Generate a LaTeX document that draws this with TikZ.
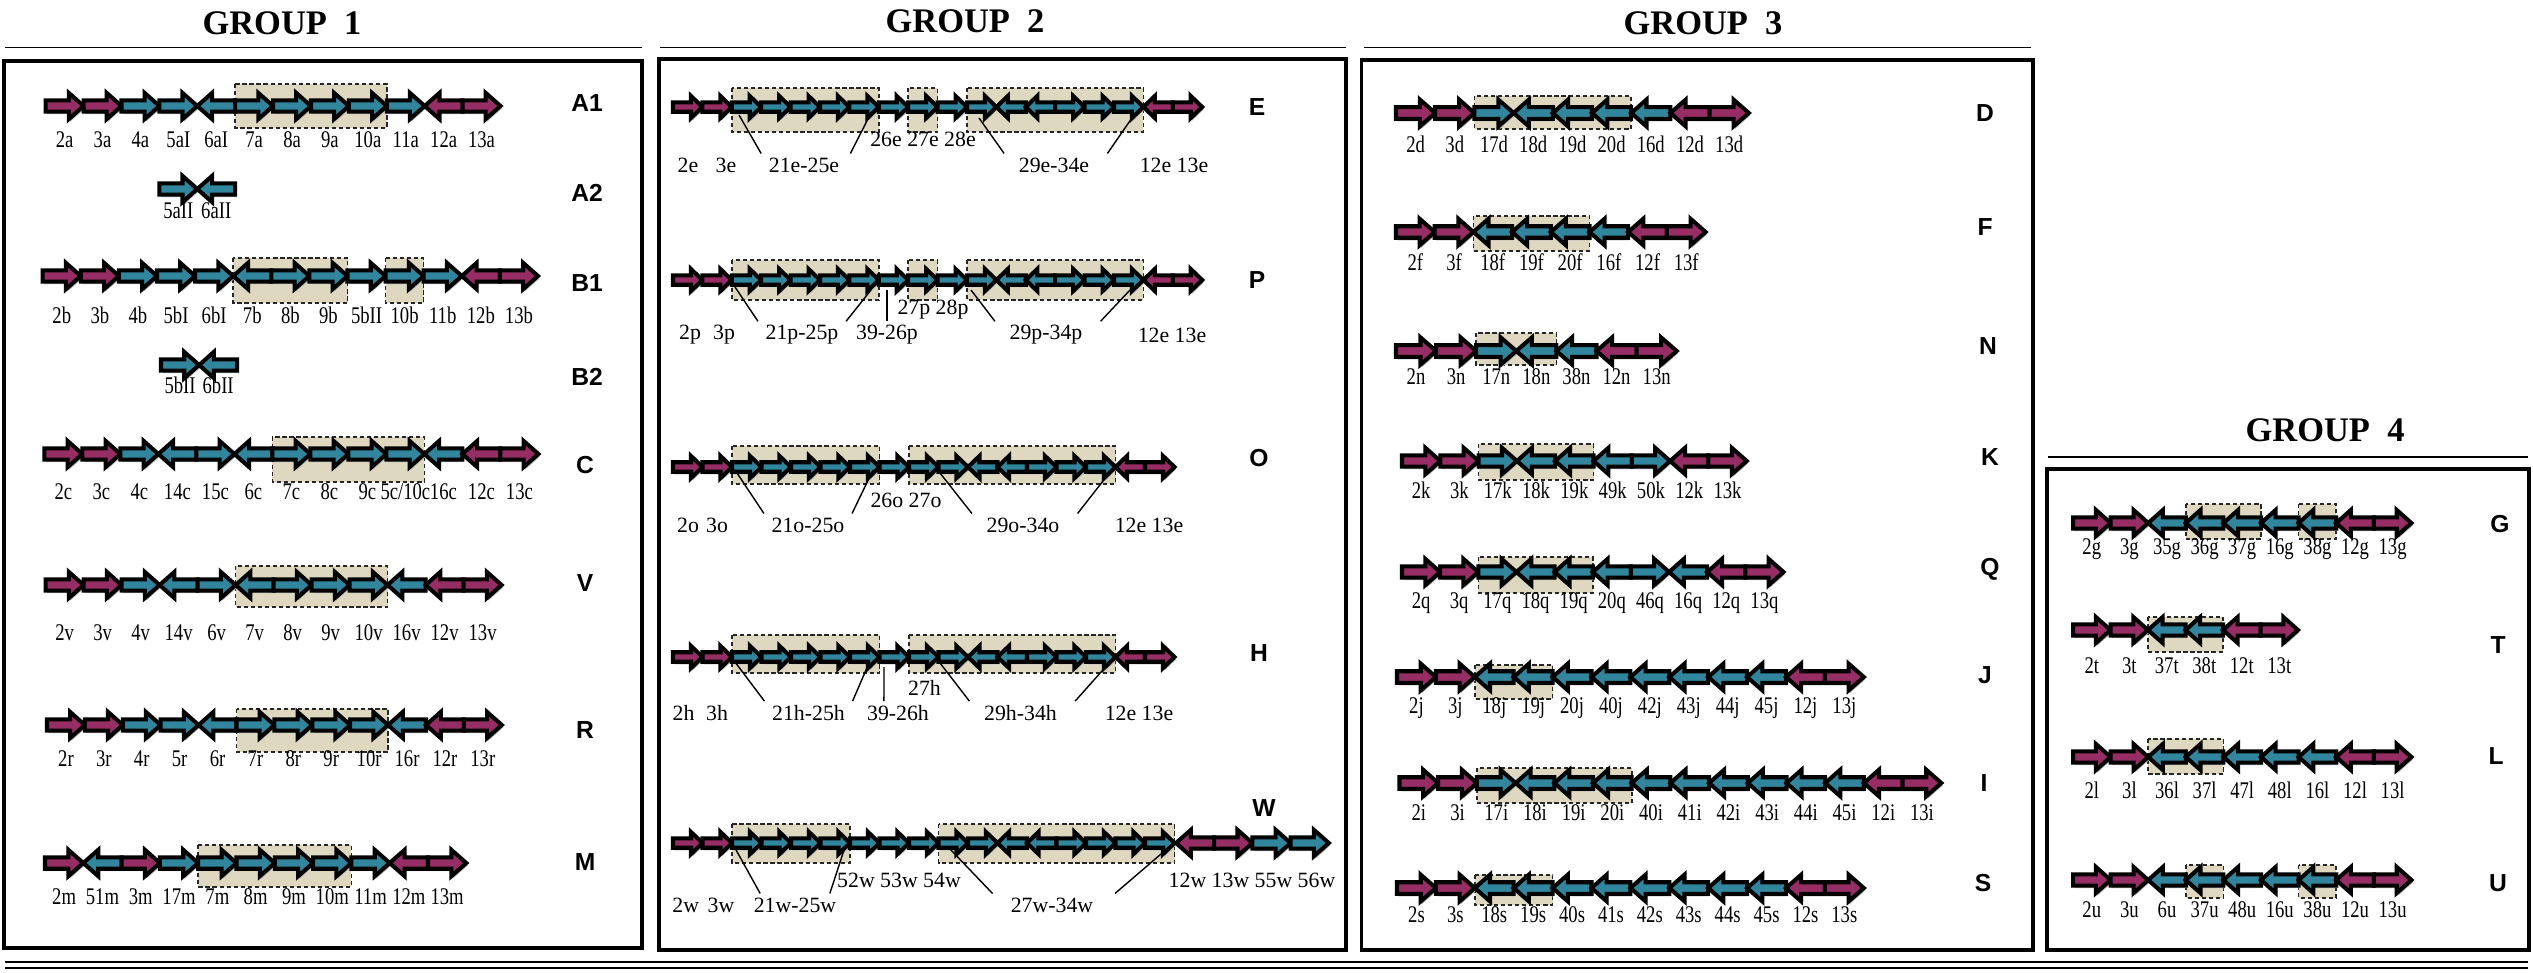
\documentclass[tikz,border=0pt]{standalone}
\usepackage{fontspec}
\setmainfont{Liberation Serif}
\newfontfamily\namefont{Liberation Sans}
\newfontfamily\narrowfont[FakeStretch=0.78]{Liberation Serif}

\definecolor{gmag}{RGB}{150,45,100}
\definecolor{gteal}{RGB}{49,133,156}
\definecolor{boxfill}{RGB}{222,216,192}

\tikzset{
  gene/.style={draw=black, line width=1.15pt, line join=miter},
  geneshadow/.style={fill=black!28},
  hlbox/.style={fill=boxfill, draw=black!85, dash pattern=on 1.2pt off 0.8pt, line width=0.45pt},
  lbl/.style={font=\narrowfont\fontsize{6.8}{7}\selectfont, inner sep=1pt},
  lbltwo/.style={font=\fontsize{6.2}{7}\selectfont, inner sep=1pt},
  rowname/.style={font=\namefont\bfseries\fontsize{7}{8}\selectfont},
  grouptitle/.style={font=\bfseries\fontsize{9.8}{11}\selectfont},
  panel/.style={draw=black, line width=1pt},
  rule/.style={line width=0.45pt},
  leader/.style={line width=0.4pt}
}

\newcommand{\generow}[4]{%
  \pgfmathsetmacro{\gw}{#3}%
  \pgfmathsetmacro{\gh}{0.39*#3}%
  \pgfmathsetmacro{\ga}{4+0.24*#3}%
  \pgfmathsetmacro{\gs}{1.5+0.11*#3}%
  \foreach \gdir/\gcol [count=\i from 0] in {#4}
    \fill[geneshadow, shift={({#1+(\i+0.5)*\gw+1.5},{#2+2.5})}, xscale=\gdir]
      ({-\gw/2},-\gs) -- ({\gw/2-\gh},-\gs) -- ({\gw/2-\gh},-\ga) -- ({\gw/2},0)
      -- ({\gw/2-\gh},\ga) -- ({\gw/2-\gh},\gs) -- ({-\gw/2},\gs) -- cycle;
  \foreach \gdir/\gcol [count=\i from 0] in {#4}
    \draw[gene, fill=\gcol, shift={({#1+(\i+0.5)*\gw},#2)}, xscale=\gdir]
      ({-\gw/2},-\gs) -- ({\gw/2-\gh},-\gs) -- ({\gw/2-\gh},-\ga) -- ({\gw/2},0)
      -- ({\gw/2-\gh},\ga) -- ({\gw/2-\gh},\gs) -- ({-\gw/2},\gs) -- cycle;
}
\newcommand{\genelabels}[5]{%
  \foreach \lab [count=\i from 0] in {#5}
    \node[lbl] (#1-\i) at ({#2+(\i+0.5)*#4},#3) {\lab};
}
\newcommand{\hlspan}[6]{\draw[hlbox] ({#1+#3*#2},#5) rectangle ({#1+(#4+1)*#2},#6);}

\begin{document}
\begin{tikzpicture}[x=0.01cm, y=-0.01cm]
  \useasboundingbox (0,0) rectangle (2533,972);

  \node[grouptitle] (g1) at (282,23) {GROUP\ \ 1};
  \node[grouptitle] (g2) at (965,21) {GROUP\ \ 2};
  \node[grouptitle] (g3) at (1703,23) {GROUP\ \ 3};
  \node[grouptitle] (g4) at (2325,430) {GROUP\ \ 4};
  \draw[rule] (5,47.7) -- (642,47.7);
  \draw[rule] (660,47.7) -- (1346,47.7);
  \draw[rule] (1364,47.7) -- (2031,47.7);
  \draw[rule] (2048,457) -- (2528,457);
  \draw[panel] (4,61) rectangle (642,948);
  \draw[panel] (659,59) rectangle (1346,950);
  \draw[panel] (1361.5,60) rectangle (2033,950);
  \draw[panel] (2047,469) rectangle (2529,950);
  \draw[rule] (5,962) -- (2528,962);
  \draw[rule] (5,968) -- (2528,968);

  \hlspan{45.7}{37.9}{5}{8}{84}{128}
  \generow{45.7}{106}{37.9}{1/gmag,1/gmag,1/gteal,1/gteal,-1/gteal,1/gteal,1/gteal,1/gteal,1/gteal,1/gteal,-1/gmag,1/gmag}
  \genelabels{A1}{45.7}{140}{37.9}{2a,3a,4a,5aI,6aI,7a,8a,9a,10a,11a,12a,13a}
  \node[rowname] (nA1) at (587,103) {A1};

  \generow{159.4}{189}{37.9}{1/gteal,-1/gteal}
  \genelabels{A2}{159.4}{211}{37.9}{5aII,6aII}
  \node[rowname] (nA2) at (587,193) {A2};

  \hlspan{42.7}{38.1}{5}{7}{258}{303}
  \hlspan{42.7}{38.1}{9}{9}{258}{303}
  \generow{42.7}{276}{38.1}{1/gmag,1/gmag,1/gteal,1/gteal,1/gteal,-1/gteal,1/gteal,1/gteal,1/gteal,1/gteal,1/gteal,-1/gmag,1/gmag}
  \genelabels{B1}{42.7}{315}{38.1}{2b,3b,4b,5bI,6bI,7b,8b,9b,5bII,10b,11b,12b,13b}
  \node[rowname] (nB1) at (587,283) {B1};

  \generow{161}{365}{38.1}{1/gteal,-1/gteal}
  \genelabels{B2}{161}{385}{38.1}{5bII,6bII}
  \node[rowname] (nB2) at (587,377) {B2};

  \hlspan{44.4}{38}{6}{9}{437}{482}
  \generow{44.4}{454}{38}{1/gmag,1/gmag,1/gteal,-1/gteal,1/gteal,-1/gteal,1/gteal,1/gteal,1/gteal,1/gteal,-1/gteal,-1/gmag,1/gmag}
  \genelabels{C}{44.4}{492}{38}{2c,3c,4c,14c,15c,6c,7c,8c,9c,5c/10c,16c,12c,13c}
  \node[rowname] (nC) at (585,465) {C};

  \hlspan{45.6}{38}{5}{8}{566}{607}
  \generow{45.6}{585}{38}{1/gmag,1/gmag,1/gteal,-1/gteal,1/gteal,-1/gteal,1/gteal,1/gteal,1/gteal,-1/gteal,-1/gmag,1/gmag}
  \genelabels{V}{45.6}{633}{38}{2v,3v,4v,14v,6v,7v,8v,9v,10v,16v,12v,13v}
  \node[rowname] (nV) at (585,583) {V};

  \hlspan{47}{37.9}{5}{8}{709}{752}
  \generow{47}{725}{37.9}{1/gmag,1/gmag,1/gteal,1/gteal,-1/gteal,1/gteal,1/gteal,1/gteal,1/gteal,-1/gteal,-1/gmag,1/gmag}
  \genelabels{R}{47}{759}{37.9}{2r,3r,4r,5r,6r,7r,8r,9r,10r,16r,12r,13r}
  \node[rowname] (nR) at (585,730) {R};

  \hlspan{45}{38.3}{4}{7}{845}{887}
  \generow{45}{863}{38.3}{1/gmag,-1/gteal,1/gmag,1/gteal,1/gteal,1/gteal,1/gteal,1/gteal,1/gteal,-1/gmag,1/gmag}
  \genelabels{M}{45}{897}{38.3}{2m,51m,3m,17m,7m,8m,9m,10m,11m,12m,13m}
  \node[rowname] (nM) at (585,862) {M};

  \hlspan{673}{29.4}{2}{6}{88}{132}
  \hlspan{673}{29.4}{8}{8}{88}{132}
  \hlspan{673}{29.4}{10}{15}{88}{132}
  \generow{673}{107}{29.4}{1/gmag,1/gmag,1/gteal,1/gteal,1/gteal,1/gteal,1/gteal,1/gteal,1/gteal,1/gteal,1/gteal,-1/gteal,-1/gteal,1/gteal,1/gteal,1/gteal,-1/gmag,1/gmag}
  \node[lbltwo] (lE26) at (923,139) {26e 27e 28e};
  \node[lbltwo] (lE2) at (688,165) {2e};
  \node[lbltwo] (lE3) at (726,165) {3e};
  \node[lbltwo] (lE21) at (804,165) {21e-25e};
  \node[lbltwo] (lE29) at (1054,165) {29e-34e};
  \node[lbltwo] (lE12) at (1174,165) {12e 13e};
  \coordinate (e21) at (739,115);
  \coordinate (e25) at (871,113);
  \coordinate (e29) at (979,118);
  \coordinate (e34) at (1134,115);
  \draw[leader] (e21) -- ([xshift=-1pt]lE21.north west);
  \draw[leader] (e25) -- ([xshift=2pt]lE21.north east);
  \draw[leader] (e29) -- ([xshift=-3pt]lE29.north west);
  \draw[leader] (e34) -- ([xshift=4pt]lE29.north east);
  \node[rowname] (nE) at (1257,107) {E};

  \hlspan{673}{29.4}{2}{6}{260}{300}
  \hlspan{673}{29.4}{8}{8}{260}{300}
  \hlspan{673}{29.4}{10}{15}{260}{300}
  \generow{673}{280}{29.4}{1/gmag,1/gmag,1/gteal,1/gteal,1/gteal,1/gteal,1/gteal,1/gteal,1/gteal,1/gteal,1/gteal,-1/gteal,-1/gteal,1/gteal,1/gteal,1/gteal,-1/gmag,1/gmag}
  \node[lbltwo] (lP27) at (933,310) {27p 28p};
  \node[lbltwo] (lP2) at (690,335) {2p};
  \node[lbltwo] (lP3) at (724,335) {3p};
  \node[lbltwo] (lP21) at (802,335) {21p-25p};
  \node[lbltwo] (lP39) at (887,335) {39-26p};
  \node[lbltwo] (lP29) at (1046,335) {29p-34p};
  \node[lbltwo] (lP12) at (1172,335) {12e 13e};
  \coordinate (p21) at (735,287);
  \coordinate (p25) at (871,290);
  \coordinate (p39) at (887,290);
  \coordinate (p29) at (971,290);
  \coordinate (p34) at (1130,290);
  \draw[leader] (p21) -- ([xshift=-1pt]lP21.north west);
  \draw[leader] (p25) -- ([xshift=1pt]lP21.north east);
  \draw[leader] (p39) -- (lP39.north);
  \draw[leader] (p29) -- ([xshift=-3pt]lP29.north west);
  \draw[leader] (p34) -- ([xshift=4pt]lP29.north east);
  \node[rowname] (nP) at (1257,280) {P};

  \hlspan{673}{29.5}{2}{6}{446}{484}
  \hlspan{673}{29.5}{8}{14}{446}{484}
  \generow{673}{467}{29.5}{1/gmag,1/gmag,1/gteal,1/gteal,1/gteal,1/gteal,1/gteal,1/gteal,1/gteal,1/gteal,-1/gteal,-1/gteal,1/gteal,1/gteal,1/gteal,-1/gmag,1/gmag}
  \node[lbltwo] (lO26) at (906,500) {26o 27o};
  \node[lbltwo] (lO2) at (688,525) {2o};
  \node[lbltwo] (lO3) at (717,525) {3o};
  \node[lbltwo] (lO21) at (808,525) {21o-25o};
  \node[lbltwo] (lO29) at (1023,525) {29o-34o};
  \node[lbltwo] (lO12) at (1149,525) {12e 13e};
  \coordinate (o21) at (735,470);
  \coordinate (o25) at (873,470);
  \coordinate (o29) at (940,473);
  \coordinate (o34) at (1110,472);
  \draw[leader] (o21) -- ([xshift=-1pt]lO21.north west);
  \draw[leader] (o25) -- ([xshift=1pt]lO21.north east);
  \draw[leader] (o29) -- ([xshift=-3pt]lO29.north west);
  \draw[leader] (o34) -- ([xshift=4pt]lO29.north east);
  \node[rowname] (nO) at (1259,458) {O};

  \hlspan{673}{29.5}{2}{6}{635}{673}
  \hlspan{673}{29.5}{8}{14}{635}{673}
  \generow{673}{657}{29.5}{1/gmag,1/gmag,1/gteal,1/gteal,1/gteal,1/gteal,1/gteal,1/gteal,1/gteal,1/gteal,-1/gteal,-1/gteal,1/gteal,1/gteal,1/gteal,-1/gmag,1/gmag}
  \node[lbltwo] (lH27) at (924.5,688) {27h};
  \node[lbltwo] (lH2) at (683.5,713) {2h};
  \node[lbltwo] (lH3) at (717,713) {3h};
  \node[lbltwo] (lH21) at (808.5,713) {21h-25h};
  \node[lbltwo] (lH39) at (898,713) {39-26h};
  \node[lbltwo] (lH29) at (1020.5,713) {29h-34h};
  \node[lbltwo] (lH12) at (1139,713) {12e 13e};
  \coordinate (h21) at (735,662);
  \coordinate (h25) at (869,663);
  \coordinate (h39) at (884,667);
  \coordinate (h29) at (940,663);
  \coordinate (h34) at (1110,662);
  \draw[leader] (h21) -- ([xshift=-1pt]lH21.north west);
  \draw[leader] (h25) -- ([xshift=1pt]lH21.north east);
  \draw[leader] (h39) -- ([xshift=-4pt]lH39.north);
  \draw[leader] (h29) -- ([xshift=-3pt]lH29.north west);
  \draw[leader] (h34) -- ([xshift=4pt]lH29.north east);
  \node[rowname] (nH) at (1259,653) {H};

  \hlspan{673}{29.5}{2}{5}{824}{863}
  \hlspan{673}{29.5}{9}{16}{824}{863}
  \generow{673}{843}{29.5}{1/gmag,1/gmag,1/gteal,1/gteal,1/gteal,1/gteal,1/gteal,1/gteal,1/gteal,1/gteal,1/gteal,-1/gteal,-1/gteal,1/gteal,1/gteal,1/gteal,1/gteal}
  \generow{1176}{843}{38.2}{-1/gmag,1/gmag,1/gteal,1/gteal}
  \node[lbltwo] (lW52) at (899,880) {52w 53w 54w};
  \node[lbltwo] (lW12) at (1252,880) {12w 13w 55w 56w};
  \node[lbltwo] (lW2) at (685.7,905) {2w};
  \node[lbltwo] (lW3) at (721,905) {3w};
  \node[lbltwo] (lW21) at (795,905) {21w-25w};
  \node[lbltwo] (lW27) at (1052,905) {27w-34w};
  \coordinate (w21) at (735,848);
  \coordinate (w25) at (844,850);
  \coordinate (w27) at (949,848);
  \coordinate (w34) at (1168,848);
  \draw[leader] (w21) -- ([xshift=3pt]lW21.north west);
  \draw[leader] (w25) -- ([xshift=-3pt]lW21.north east);
  \draw[leader] (w27) -- ([xshift=-4pt]lW27.north west);
  \draw[leader] (w34) -- ([xshift=5pt]lW27.north east);
  \node[rowname] (nW) at (1264,808) {W};

  \hlspan{1396}{39.2}{2}{5}{96}{129}
  \generow{1396}{113}{39.2}{1/gmag,1/gmag,1/gteal,-1/gteal,-1/gteal,-1/gteal,-1/gteal,-1/gmag,1/gmag}
  \genelabels{D}{1396}{144}{39.2}{2d,3d,17d,18d,19d,20d,16d,12d,13d}
  \node[rowname] (nD) at (1985,113) {D};

  \hlspan{1396}{38.7}{2}{4}{216}{251}
  \generow{1396}{232}{38.7}{1/gmag,1/gmag,-1/gteal,-1/gteal,-1/gteal,-1/gteal,-1/gmag,1/gmag}
  \genelabels{F}{1396}{262}{38.7}{2f,3f,18f,19f,20f,16f,12f,13f}
  \node[rowname] (nF) at (1985,227) {F};

  \hlspan{1396}{40.1}{2}{3}{333}{365}
  \generow{1396}{351}{40.1}{1/gmag,1/gmag,1/gteal,-1/gteal,-1/gteal,-1/gmag,1/gmag}
  \genelabels{N}{1396}{377}{40.1}{2n,3n,17n,18n,38n,12n,13n}
  \node[rowname] (nN) at (1988,346) {N};

  \hlspan{1402}{38.3}{2}{4}{444}{480}
  \generow{1402}{461}{38.3}{1/gmag,1/gmag,1/gteal,-1/gteal,-1/gteal,-1/gteal,1/gteal,-1/gmag,1/gmag}
  \genelabels{K}{1402}{490}{38.3}{2k,3k,17k,18k,19k,49k,50k,12k,13k}
  \node[rowname] (nK) at (1990,457) {K};

  \hlspan{1402}{38.15}{2}{4}{557}{593}
  \generow{1402}{572}{38.15}{1/gmag,1/gmag,1/gteal,-1/gteal,-1/gteal,-1/gteal,1/gteal,-1/gteal,-1/gmag,1/gmag}
  \genelabels{Q}{1402}{603}{38.15}{2q,3q,17q,18q,19q,20q,46q,16q,12q,13q}
  \node[rowname] (nQ) at (1990,569) {Q};

  \hlspan{1397}{38.9}{2}{3}{665}{699}
  \generow{1397}{677}{38.9}{1/gmag,1/gmag,-1/gteal,-1/gteal,-1/gteal,-1/gteal,-1/gteal,-1/gteal,-1/gteal,-1/gteal,-1/gmag,1/gmag}
  \genelabels{J}{1397}{708}{38.9}{2j,3j,18j,19j,20j,40j,42j,43j,44j,45j,12j,13j}
  \node[rowname] (nJ) at (1985,675) {J};

  \hlspan{1399.5}{38.7}{2}{5}{768}{803}
  \generow{1399.5}{783}{38.7}{1/gmag,1/gmag,1/gteal,-1/gteal,-1/gteal,-1/gteal,-1/gteal,-1/gteal,-1/gteal,-1/gteal,-1/gteal,-1/gteal,-1/gmag,1/gmag}
  \genelabels{I}{1399.5}{813}{38.7}{2i,3i,17i,18i,19i,20i,40i,41i,42i,43i,44i,45i,12i,13i}
  \node[rowname] (nI) at (1984,783) {I};

  \hlspan{1397}{38.9}{2}{3}{875}{905}
  \generow{1397}{888}{38.9}{1/gmag,1/gmag,-1/gteal,-1/gteal,-1/gteal,-1/gteal,-1/gteal,-1/gteal,-1/gteal,-1/gteal,-1/gmag,1/gmag}
  \genelabels{S}{1397}{915}{38.9}{2s,3s,18s,19s,40s,41s,42s,43s,44s,45s,12s,13s}
  \node[rowname] (nS) at (1983,883) {S};

  \hlspan{2073}{37.6}{3}{4}{504}{539}
  \hlspan{2073}{37.6}{6}{6}{504}{539}
  \generow{2073}{523}{37.6}{1/gmag,1/gmag,-1/gteal,-1/gteal,-1/gteal,-1/gteal,-1/gteal,-1/gmag,1/gmag}
  \genelabels{G}{2073}{549}{37.6}{2g,3g,35g,36g,37g,16g,38g,12g,13g}
  \node[rowname] (nG) at (2500,524) {G};

  \hlspan{2073}{37.5}{2}{3}{617}{652}
  \generow{2073}{630}{37.5}{1/gmag,1/gmag,-1/gteal,-1/gteal,-1/gmag,1/gmag}
  \genelabels{T}{2073}{666}{37.5}{2t,3t,37t,38t,12t,13t}
  \node[rowname] (nT) at (2498,645) {T};

  \hlspan{2073}{37.6}{2}{3}{739}{774}
  \generow{2073}{757}{37.6}{1/gmag,1/gmag,-1/gteal,-1/gteal,-1/gteal,-1/gteal,-1/gteal,-1/gmag,1/gmag}
  \genelabels{L}{2073}{790}{37.6}{2l,3l,36l,37l,47l,48l,16l,12l,13l}
  \node[rowname] (nL) at (2496,756) {L};

  \hlspan{2073}{37.6}{3}{3}{865}{898}
  \hlspan{2073}{37.6}{6}{6}{865}{898}
  \generow{2073}{880}{37.6}{1/gmag,1/gmag,-1/gteal,-1/gteal,-1/gteal,-1/gteal,-1/gteal,-1/gmag,1/gmag}
  \genelabels{U}{2073}{910}{37.6}{2u,3u,6u,37u,48u,16u,38u,12u,13u}
  \node[rowname] (nU) at (2498,883) {U};
\end{tikzpicture}
\end{document}
